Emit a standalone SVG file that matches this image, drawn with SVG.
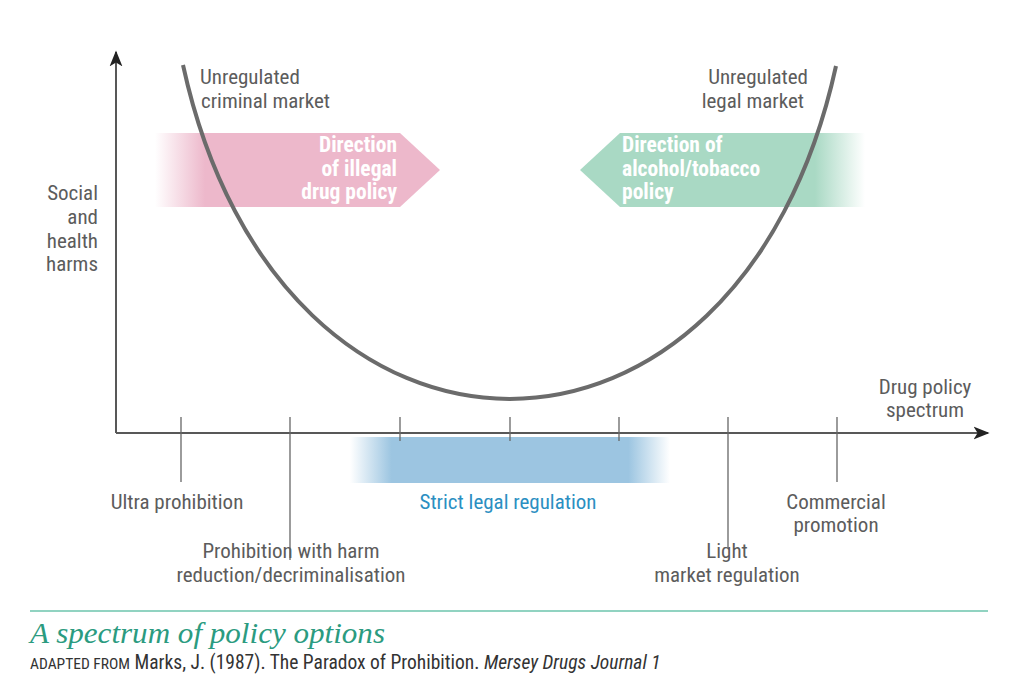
<svg xmlns="http://www.w3.org/2000/svg" width="1023" height="700" viewBox="0 0 1023 700">
<defs>
<style>
.t{font-family:"Liberation Sans Narrow","Roboto Condensed","Liberation Sans",sans-serif;font-size:21px;fill:#5c5c5c}
.w{font-family:"Liberation Sans Narrow","Roboto Condensed","Liberation Sans",sans-serif;font-size:21.5px;font-weight:bold;fill:#ffffff}
.ax{stroke:#585858;stroke-width:2;fill:none}
.tk{stroke:#666;stroke-width:1.3;fill:none}
</style>
<linearGradient id="gp" x1="155" y1="0" x2="205" y2="0" gradientUnits="userSpaceOnUse">
<stop offset="0" stop-color="#edb8cb" stop-opacity="0"/><stop offset="1" stop-color="#edb8cb"/>
</linearGradient>
<linearGradient id="gg" x1="815" y1="0" x2="865" y2="0" gradientUnits="userSpaceOnUse">
<stop offset="0" stop-color="#a9d9c4"/><stop offset="1" stop-color="#a9d9c4" stop-opacity="0"/>
</linearGradient>
<linearGradient id="gb" x1="350" y1="0" x2="670" y2="0" gradientUnits="userSpaceOnUse">
<stop offset="0" stop-color="#9cc5e1" stop-opacity="0"/>
<stop offset="0.13" stop-color="#9cc5e1"/>
<stop offset="0.87" stop-color="#9cc5e1"/>
<stop offset="1" stop-color="#9cc5e1" stop-opacity="0"/>
</linearGradient>
<marker id="ah2" viewBox="0 0 10 10" refX="9" refY="5" markerWidth="16" markerHeight="16" markerUnits="userSpaceOnUse" orient="auto">
<path d="M0,1 L10,5 L0,9 L2.5,5 Z" fill="#222"/>
</marker>
</defs>
<rect width="1023" height="700" fill="#fff"/>

<g id="band-illegal">
<path d="M155,133 H400 L440,170 L400,207 H155 Z" fill="url(#gp)"/>
<text class="w" text-anchor="end"><tspan x="397" y="152">Direction</tspan><tspan x="397" y="176">of illegal</tspan><tspan x="397" y="199">drug policy</tspan></text>
</g>
<g id="band-legal">
<path d="M865,133 H620 L580,170 L620,207 H865 Z" fill="url(#gg)"/>
<text class="w"><tspan x="622" y="152">Direction of</tspan><tspan x="622" y="176">alcohol/tobacco</tspan><tspan x="622" y="199">policy</tspan></text>
</g>
<g id="band-strict">
<rect x="350" y="437" width="320" height="46" fill="url(#gb)"/>
</g>

<g id="connectors">
<line class="ax" x1="116" y1="433" x2="116" y2="52" marker-end="url(#ah2)"/>
<line class="ax" x1="116" y1="433" x2="988" y2="433" marker-end="url(#ah2)"/>
<path d="M183,65 C280,510 739,510 836,66" fill="none" stroke="#6b6b6b" stroke-width="4"/>
<line class="tk" x1="181" y1="417" x2="181" y2="482"/>
<line class="tk" x1="290" y1="417" x2="290" y2="560"/>
<line class="tk" x1="400" y1="417" x2="400" y2="441"/>
<line class="tk" x1="510" y1="417" x2="510" y2="441"/>
<line class="tk" x1="619" y1="417" x2="619" y2="441"/>
<line class="tk" x1="728" y1="417" x2="728" y2="548"/>
<line class="tk" x1="837" y1="417" x2="837" y2="482"/>
</g>

<g id="label-criminal"><text class="t"><tspan x="200" y="84">Unregulated</tspan><tspan x="201" y="108">criminal market</tspan></text></g>
<g id="label-legal"><text class="t" text-anchor="end"><tspan x="808" y="84">Unregulated</tspan><tspan x="804" y="108">legal market</tspan></text></g>
<g id="label-yaxis"><text class="t" text-anchor="end"><tspan x="98" y="200">Social</tspan><tspan x="98" y="224">and</tspan><tspan x="98" y="248">health</tspan><tspan x="98" y="271">harms</tspan></text></g>
<g id="label-xaxis"><text class="t" text-anchor="middle"><tspan x="925" y="394">Drug policy</tspan><tspan x="925" y="417">spectrum</tspan></text></g>
<g id="label-ultra"><text class="t" text-anchor="middle" x="177" y="509">Ultra prohibition</text></g>
<g id="label-harm"><text class="t" text-anchor="middle"><tspan x="291" y="558">Prohibition with harm</tspan><tspan x="291" y="582">reduction/decriminalisation</tspan></text></g>
<g id="label-strict"><text class="t" text-anchor="middle" x="508" y="509" style="fill:#2b8fc2">Strict legal regulation</text></g>
<g id="label-light"><text class="t" text-anchor="middle"><tspan x="727" y="558">Light</tspan><tspan x="727" y="582">market regulation</tspan></text></g>
<g id="label-commercial"><text class="t" text-anchor="middle"><tspan x="836" y="509">Commercial</tspan><tspan x="836" y="532">promotion</tspan></text></g>

<g id="caption">
<line x1="30" y1="611" x2="988" y2="611" stroke="#6cc4ad" stroke-width="1.5"/>
<text x="30" y="643" font-family="Liberation Serif, serif" font-style="italic" font-size="29" fill="#2b9b80" textLength="355" lengthAdjust="spacingAndGlyphs">A spectrum of policy options</text>
<text x="30" y="669" font-family="Liberation Sans Narrow, Roboto Condensed, Liberation Sans, sans-serif" font-size="19.5" fill="#333"><tspan font-size="15.5">ADAPTED FROM</tspan> Marks, J. (1987). The Paradox of Prohibition. <tspan font-style="italic">Mersey Drugs Journal 1</tspan></text>
</g>
</svg>
